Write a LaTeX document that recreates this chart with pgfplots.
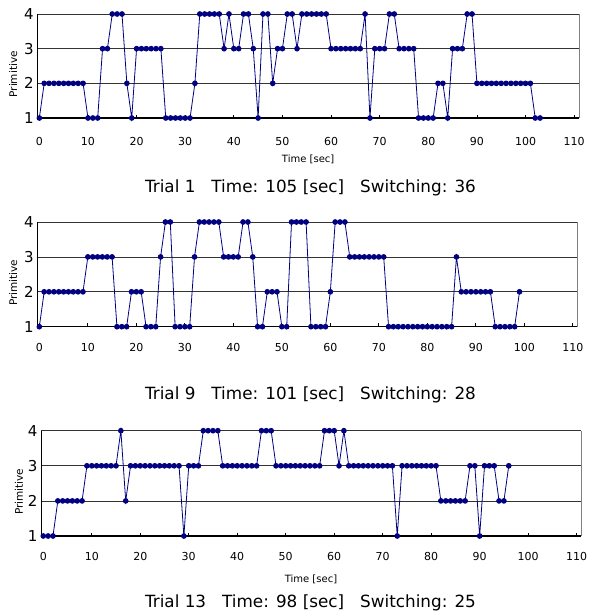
\documentclass[border=0pt]{standalone}
\usepackage{fontspec}
\setmainfont{DejaVu Sans}
\usepackage{pgfplots}
\pgfplotsset{compat=1.18}
\definecolor{navy}{RGB}{0,0,128}
\pgfplotsset{
  trial/.style={
    scale only axis, anchor=south west,
    xmin=-0.42, xmax=111, ymin=1, ymax=4,
    axis lines*=left, axis line style={-, black, line width=0.9pt},
    x axis line style={line width=1.2pt},
    xtick={0,10,...,110}, ytick={1,2,3,4},
    tick align=inside, major tick length=3.5pt,
    xtick style={black, line width=0.8pt}, ytick style={draw=none},
    ymajorgrids, grid style={black!80, line width=0.8pt},
    /pgf/number format/assume math mode=true,
    xticklabel style={font=\fontsize{11}{11}\selectfont, anchor=center},
    yticklabel style={font=\fontsize{15}{15}\selectfont},
    ylabel={Primitive},
    ylabel style={font=\fontsize{10.5}{10.5}\selectfont, at={(axis description cs:-0.0445,0.42)}, anchor=center},
    xlabel style={font=\fontsize{10}{10}\selectfont, at={(axis description cs:0.5,0)}, anchor=center},
    clip=false,
    every axis plot post/.append style={navy, line width=0.8pt, mark=*, mark size=2.4pt, mark options={solid, fill=navy, draw=navy}},
  }
}
\begin{document}
\begin{tikzpicture}
\path[use as bounding box] (0pt,0pt) rectangle (589pt,-616pt);

% Trial 1
\begin{axis}[trial, at={(37.3pt,-118pt)}, width=541.7pt, height=104pt,
  xticklabel style={yshift=-23pt},
  xlabel={Time [sec]}, xlabel style={yshift=-41pt}]
\addplot coordinates {
(0,1)(1,2)(2,2)(3,2)(4,2)(5,2)(6,2)(7,2)(8,2)(9,2)
(10,1)(11,1)(12,1)(13,3)(14,3)(15,4)(16,4)(17,4)(18,2)(19,1)
(20,3)(21,3)(22,3)(23,3)(24,3)(25,3)(26,1)(27,1)(28,1)(29,1)
(30,1)(31,1)(32,2)(33,4)(34,4)(35,4)(36,4)(37,4)(38,3)(39,4)
(40,3)(41,3)(42,4)(43,4)(44,3)(45,1)(46,4)(47,4)(48,2)(49,3)
(50,3)(51,4)(52,4)(53,3)(54,4)(55,4)(56,4)(57,4)(58,4)(59,4)
(60,3)(61,3)(62,3)(63,3)(64,3)(65,3)(66,3)(67,4)(68,1)(69,3)
(70,3)(71,3)(72,4)(73,4)(74,3)(75,3)(76,3)(77,3)(78,1)(79,1)
(80,1)(81,1)(82,2)(83,2)(84,1)(85,3)(86,3)(87,3)(88,4)(89,4)
(90,2)(91,2)(92,2)(93,2)(94,2)(95,2)(96,2)(97,2)(98,2)(99,2)
(100,2)(101,2)(102,1)(103,1)};
\draw[gray, line width=0.8pt] (rel axis cs:1,0) -- (rel axis cs:1,1);
\end{axis}

% Trial 9
\begin{axis}[trial, at={(37.3pt,-326.7pt)}, width=540.4pt, height=104.7pt,
  xticklabel style={yshift=-21pt}]
\addplot coordinates {
(0,1)(1,2)(2,2)(3,2)(4,2)(5,2)(6,2)(7,2)(8,2)(9,2)
(10,3)(11,3)(12,3)(13,3)(14,3)(15,3)(16,1)(17,1)(18,1)(19,2)
(20,2)(21,2)(22,1)(23,1)(24,1)(25,3)(26,4)(27,4)(28,1)(29,1)
(30,1)(31,1)(32,3)(33,4)(34,4)(35,4)(36,4)(37,4)(38,3)(39,3)
(40,3)(41,3)(42,4)(43,4)(44,3)(45,1)(46,1)(47,2)(48,2)(49,2)
(50,1)(51,1)(52,4)(53,4)(54,4)(55,4)(56,1)(57,1)(58,1)(59,1)
(60,2)(61,4)(62,4)(63,4)(64,3)(65,3)(66,3)(67,3)(68,3)(69,3)
(70,3)(71,3)(72,1)(73,1)(74,1)(75,1)(76,1)(77,1)(78,1)(79,1)
(80,1)(81,1)(82,1)(83,1)(84,1)(85,1)(86,3)(87,2)(88,2)(89,2)
(90,2)(91,2)(92,2)(93,2)(94,1)(95,1)(96,1)(97,1)(98,1)(99,2)};
\draw[gray, line width=0.8pt] (rel axis cs:1,0) -- (rel axis cs:1,1);
\end{axis}

% Trial 13
\begin{axis}[trial, at={(41pt,-536pt)}, width=540pt, height=105.3pt,
  xmin=-0.47, xmax=110.9,
  xticklabel style={yshift=-20pt},
  ylabel style={at={(axis description cs:-0.0407,0.42)}},
  xlabel={Time [sec]}, xlabel style={yshift=-43pt}]
\addplot coordinates {
(0,1)(1,1)(2,1)(3,2)(4,2)(5,2)(6,2)(7,2)(8,2)(9,3)
(10,3)(11,3)(12,3)(13,3)(14,3)(15,3)(16,4)(17,2)(18,3)(19,3)
(20,3)(21,3)(22,3)(23,3)(24,3)(25,3)(26,3)(27,3)(28,3)(29,1)
(30,3)(31,3)(32,3)(33,4)(34,4)(35,4)(36,4)(37,3)(38,3)(39,3)
(40,3)(41,3)(42,3)(43,3)(44,3)(45,4)(46,4)(47,4)(48,3)(49,3)
(50,3)(51,3)(52,3)(53,3)(54,3)(55,3)(56,3)(57,3)(58,4)(59,4)
(60,4)(61,3)(62,4)(63,3)(64,3)(65,3)(66,3)(67,3)(68,3)(69,3)
(70,3)(71,3)(72,3)(73,1)(74,3)(75,3)(76,3)(77,3)(78,3)(79,3)
(80,3)(81,3)(82,2)(83,2)(84,2)(85,2)(86,2)(87,2)(88,3)(89,3)
(90,1)(91,3)(92,3)(93,3)(94,2)(95,2)(96,3)};
\draw[gray, line width=0.8pt] (rel axis cs:1,0) -- (rel axis cs:1,1);
\end{axis}

\begin{scope}[font=\fontsize{16.8}{16.8}\selectfont]
\node[anchor=base, inner sep=0pt] at (310.5pt,-192pt) {Trial 1\ \ \ Time: 105 [sec]\ \ \ Switching: 36};
\node[anchor=base, inner sep=0pt] at (310.5pt,-399pt) {Trial 9\ \ \ Time: 101 [sec]\ \ \ Switching: 28};
\node[anchor=base, inner sep=0pt] at (310.5pt,-607.7pt) {Trial 13\ \ \ Time: 98 [sec]\ \ \ Switching: 25};
\end{scope}
\end{tikzpicture}
\end{document}
